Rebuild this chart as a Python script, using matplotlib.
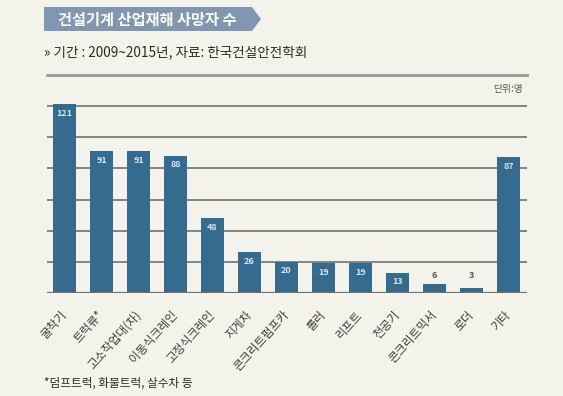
import matplotlib
matplotlib.use("Agg")
import matplotlib.pyplot as plt
from matplotlib.patches import Polygon
from matplotlib.lines import Line2D

plt.rcParams["font.family"] = ["Noto Sans CJK KR", "DejaVu Sans"]

# data
machines = ["굴착기", "트럭류*", "고소작업대(차)", "이동식크레인", "고정식크레인", "지게차",
            "콘크리트펌프카", "롤러", "리프트", "천공기", "콘크리트믹서", "로더", "기타"]
deaths = [121, 91, 91, 88, 48, 26, 20, 19, 19, 13, 6, 3, 87]
grid_values = [20, 40, 60, 80, 100, 120]

W, H = 563, 396
BG = "#f4f3eb"
BAR = "#346b8f"
BANNER = "#8197b1"
TEXT = "#3c3c3c"


def fx(x):
    return x / W


def fy(y):
    return 1 - y / H


fig = plt.figure(figsize=(W / 100, H / 100), dpi=100, facecolor=BG)

# banner with arrow tip
banner = Polygon([(fx(44), fy(7)), (fx(252), fy(7)), (fx(261), fy(19)),
                  (fx(252), fy(31)), (fx(44), fy(31))],
                 closed=True, transform=fig.transFigure, facecolor=BANNER, edgecolor="none")
fig.patches.append(banner)
fig.text(fx(58), fy(19.5), "건설기계 산업재해 사망자 수", color="white", fontsize=11,
         fontweight="bold", va="center", ha="left")

fig.text(fx(44), fy(52), "» 기간 : 2009~2015년, 자료: 한국건설안전학회", color="#2a2a2a",
         fontsize=9.8, va="center", ha="left")

fig.lines.append(Line2D([fx(47), fx(527)], [fy(75), fy(75)], transform=fig.transFigure,
                        color="#9a9a96", lw=2))
fig.text(fx(523), fy(89), "단위:명", color="#555555", fontsize=7, va="center", ha="right")

# plot area
top_px, base_px = 96, 293
ax = fig.add_axes([fx(47), fy(base_px), (527 - 47) / W, (base_px - top_px) / H])
ax.set_facecolor(BG)
scale = (base_px - 106) / 120
ax.set_ylim(0, (base_px - top_px) / scale)
ax.set_xlim(-0.473, 12.5)

for g in grid_values:
    ax.axhline(g, color="#6f6f6c", lw=1.2, zorder=0)
ax.axhline(0, color="#6f6f6c", lw=1.6, zorder=3)

x = list(range(len(machines)))
ax.bar(x, deaths, width=0.62, color=BAR, zorder=2)

for xi, v in zip(x, deaths):
    if v >= 10:
        ax.annotate(str(v), (xi, v), xytext=(0, -6.5), textcoords="offset points",
                    ha="center", va="center", color="#dce6ee", fontsize=6.5,
                    fontweight="semibold", zorder=4)
    else:
        ax.annotate(str(v), (xi, 11.5), xytext=(0, 0), textcoords="offset points",
                    ha="center", va="center", color="#555555", fontsize=6.5,
                    fontweight="semibold", zorder=4)

ax.set_yticks([])
ax.set_xticks(x)
ax.set_xticklabels(machines, rotation=48, ha="right", va="center",
                   rotation_mode="anchor", fontsize=8.5, color=TEXT)
ax.tick_params(axis="x", length=0, pad=14)
for s in ax.spines.values():
    s.set_visible(False)

fig.text(fx(44), fy(383), "*덤프트럭, 화물트럭, 살수차 등", color="#2a2a2a",
         fontsize=8.4, va="center", ha="left")

fig.savefig("out.png", dpi=100, facecolor=BG)
